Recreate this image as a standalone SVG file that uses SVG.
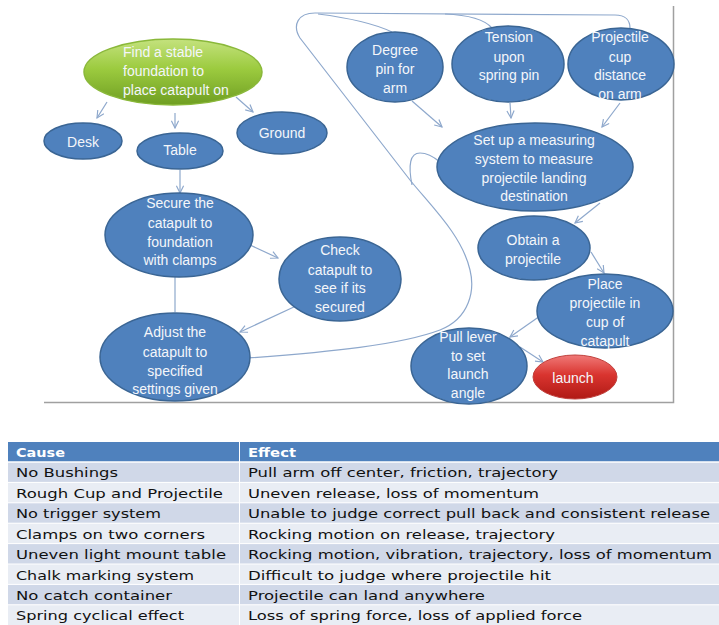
<svg xmlns="http://www.w3.org/2000/svg" width="719" height="625" viewBox="0 0 719 625">
<defs>
<linearGradient id="gGreen" x1="0" y1="0" x2="0" y2="1">
<stop offset="0" stop-color="#c4e27e"/>
<stop offset="0.45" stop-color="#9ccb3f"/>
<stop offset="1" stop-color="#6f9e22"/>
</linearGradient>
<linearGradient id="gRed" x1="0" y1="0" x2="0" y2="1">
<stop offset="0" stop-color="#f07a78"/>
<stop offset="0.45" stop-color="#d9342f"/>
<stop offset="1" stop-color="#b01a15"/>
</linearGradient>
<marker id="arr" viewBox="0 0 10 10" refX="9" refY="5" markerWidth="9" markerHeight="9" orient="auto" markerUnits="userSpaceOnUse">
<path d="M1,1 L9,5 L1,9" fill="none" stroke="#8ea8cc" stroke-width="1.3"/>
</marker>
<style>
.blue{fill:#4f81bd;stroke:#3a6594;stroke-width:1.5}
.t{font-family:"Liberation Sans",Arial,sans-serif;font-size:14px;fill:#f4f6fa;text-anchor:middle}
.tl{font-family:"Liberation Sans",Arial,sans-serif;font-size:14px;fill:#f4f6fa}
.c{fill:none;stroke:#8ea8cc;stroke-width:1.2}
.frame{fill:none;stroke:#a0a0a0;stroke-width:1.5}
.th{font-family:"DejaVu Sans",Verdana,sans-serif;font-size:13px;font-weight:bold;fill:#ffffff}
.td{font-family:"DejaVu Sans",Verdana,sans-serif;font-size:13px;fill:#111111}
.r1{fill:#d0d8e8}
.r2{fill:#e9edf4}
</style>
</defs>
<rect width="719" height="625" fill="#ffffff"/>
<path class="frame" d="M673.5,6 L673.5,402.5 L44,402.5"/>

<g id="connectors">
<path class="c" d="M248,358 C330,352 400,345 440,330 C470,318 475,290 470,270 C462,235 430,205 410,180 L300,38 C292,25 298,13 315,13 L615,15 C626,15 630,21 630,28"/>
<path class="c" d="M318,14 C350,18 375,24 392,32"/>
<path class="c" d="M445,14 C470,15 485,20 492,28"/>
<path class="c" d="M412,185 C408,165 410,153 420,153 C428,153 434,157 440,162"/>
<path class="c" marker-end="url(#arr)" d="M107,102 L97,118"/>
<path class="c" marker-end="url(#arr)" d="M175,113 L175,128"/>
<path class="c" marker-end="url(#arr)" d="M236,97 L253,112"/>
<path class="c" marker-end="url(#arr)" d="M180,170 L180,193"/>
<path class="c" marker-end="url(#arr)" d="M250,245 L278,258"/>
<path class="c" d="M175,277 L175,312"/>
<path class="c" marker-end="url(#arr)" d="M296,306 L240,332"/>
<path class="c" marker-end="url(#arr)" d="M412,101 L442,127"/>
<path class="c" marker-end="url(#arr)" d="M510,103 L511,118"/>
<path class="c" marker-end="url(#arr)" d="M620,103 L602,127"/>
<path class="c" marker-end="url(#arr)" d="M600,203 L575,223"/>
<path class="c" marker-end="url(#arr)" d="M591,252 L604,273"/>
<path class="c" marker-end="url(#arr)" d="M540,316 L510,337"/>
<path class="c" marker-end="url(#arr)" d="M520,347 L543,362"/>
</g>

<g id="n-foundation">
<ellipse cx="173" cy="72" rx="89" ry="33" fill="url(#gGreen)" stroke="#8ab83a" stroke-width="1.5"/>
<text class="tl" x="123" y="57">Find a stable</text>
<text class="tl" x="123" y="76">foundation to</text>
<text class="tl" x="123" y="95">place catapult on</text>
</g>
<g id="n-desk">
<ellipse class="blue" cx="83" cy="141" rx="39" ry="18"/>
<text class="t" x="83" y="147">Desk</text>
</g>
<g id="n-table">
<ellipse class="blue" cx="180" cy="151" rx="43" ry="18"/>
<text class="t" x="180" y="155">Table</text>
</g>
<g id="n-ground">
<ellipse class="blue" cx="282" cy="133" rx="45" ry="21"/>
<text class="t" x="282" y="138">Ground</text>
</g>
<g id="n-secure">
<ellipse class="blue" cx="179" cy="235" rx="74" ry="42"/>
<text class="t" x="180" y="208">Secure the</text>
<text class="t" x="180" y="228">catapult  to</text>
<text class="t" x="180" y="247">foundation</text>
<text class="t" x="180" y="265">with clamps</text>
</g>
<g id="n-check">
<ellipse class="blue" cx="340" cy="279" rx="61" ry="42"/>
<text class="t" x="340" y="255">Check</text>
<text class="t" x="340" y="275">catapult to</text>
<text class="t" x="340" y="293">see if its</text>
<text class="t" x="340" y="312">secured</text>
</g>
<g id="n-adjust">
<ellipse class="blue" cx="175" cy="357" rx="75" ry="44"/>
<text class="t" x="175" y="337">Adjust the</text>
<text class="t" x="175" y="357">catapult to</text>
<text class="t" x="175" y="376">specified</text>
<text class="t" x="175" y="394">settings given</text>
</g>
<g id="n-degree">
<ellipse class="blue" cx="395" cy="67" rx="48" ry="35"/>
<text class="t" x="395" y="55">Degree</text>
<text class="t" x="395" y="74">pin for</text>
<text class="t" x="395" y="93">arm</text>
</g>
<g id="n-tension">
<ellipse class="blue" cx="508" cy="64" rx="56" ry="38"/>
<text class="t" x="509" y="42">Tension</text>
<text class="t" x="509" y="62">upon</text>
<text class="t" x="509" y="80">spring pin</text>
</g>
<g id="n-cup">
<ellipse class="blue" cx="621" cy="64" rx="53" ry="36"/>
<text class="t" x="620" y="42">Projectile</text>
<text class="t" x="620" y="62">cup</text>
<text class="t" x="620" y="80">distance</text>
<text class="t" x="620" y="99">on arm</text>
</g>
<g id="n-measure">
<ellipse class="blue" cx="535" cy="167" rx="98" ry="44"/>
<text class="t" x="534" y="145">Set up a measuring</text>
<text class="t" x="534" y="164">system to measure</text>
<text class="t" x="534" y="183">projectile landing</text>
<text class="t" x="534" y="201">destination</text>
</g>
<g id="n-obtain">
<ellipse class="blue" cx="534" cy="248" rx="56" ry="32"/>
<text class="t" x="533" y="245">Obtain a</text>
<text class="t" x="533" y="264">projectile</text>
</g>
<g id="n-place">
<ellipse class="blue" cx="605" cy="311" rx="68" ry="37"/>
<text class="t" x="605" y="289">Place</text>
<text class="t" x="605" y="308">projectile in</text>
<text class="t" x="605" y="327">cup of</text>
<text class="t" x="605" y="346">catapult</text>
</g>
<g id="n-pull">
<ellipse class="blue" cx="469" cy="366" rx="58" ry="38"/>
<text class="t" x="468" y="342">Pull lever</text>
<text class="t" x="468" y="361">to set</text>
<text class="t" x="468" y="379">launch</text>
<text class="t" x="468" y="398">angle</text>
</g>
<g id="n-launch">
<ellipse cx="575" cy="377" rx="42" ry="22" fill="url(#gRed)" stroke="#c0403c" stroke-width="1"/>
<text class="t" x="573" y="383">launch</text>
</g>

<g id="table">
<rect x="8" y="442" width="711" height="20" fill="#4f81bd"/>
<rect class="r1" x="8" y="462" width="711" height="20.4"/>
<rect class="r2" x="8" y="482.4" width="711" height="20.4"/>
<rect class="r1" x="8" y="502.8" width="711" height="20.4"/>
<rect class="r2" x="8" y="523.2" width="711" height="20.4"/>
<rect class="r1" x="8" y="543.6" width="711" height="20.4"/>
<rect class="r2" x="8" y="564" width="711" height="20.4"/>
<rect class="r1" x="8" y="584.4" width="711" height="20.4"/>
<rect class="r2" x="8" y="604.8" width="711" height="20.2"/>
<g stroke="#ffffff" stroke-width="1">
<line x1="8" y1="462" x2="719" y2="462" stroke-width="1.5"/>
<line x1="8" y1="482.4" x2="719" y2="482.4"/>
<line x1="8" y1="502.8" x2="719" y2="502.8"/>
<line x1="8" y1="523.2" x2="719" y2="523.2"/>
<line x1="8" y1="543.6" x2="719" y2="543.6"/>
<line x1="8" y1="564" x2="719" y2="564"/>
<line x1="8" y1="584.4" x2="719" y2="584.4"/>
<line x1="8" y1="604.8" x2="719" y2="604.8"/>
<line x1="239.5" y1="442" x2="239.5" y2="625"/>
</g>
<text class="th" x="16" y="457" textLength="49" lengthAdjust="spacingAndGlyphs">Cause</text>
<text class="th" x="248" y="457" textLength="48" lengthAdjust="spacingAndGlyphs">Effect</text>
<text class="td" x="16" y="477" textLength="102" lengthAdjust="spacingAndGlyphs">No Bushings</text>
<text class="td" x="16" y="497.5" textLength="207" lengthAdjust="spacingAndGlyphs">Rough Cup and Projectile</text>
<text class="td" x="16" y="518" textLength="145" lengthAdjust="spacingAndGlyphs">No trigger system</text>
<text class="td" x="16" y="538.5" textLength="189" lengthAdjust="spacingAndGlyphs">Clamps on two corners</text>
<text class="td" x="16" y="559" textLength="210" lengthAdjust="spacingAndGlyphs">Uneven light mount table</text>
<text class="td" x="16" y="579.5" textLength="178" lengthAdjust="spacingAndGlyphs">Chalk marking system</text>
<text class="td" x="16" y="600" textLength="156" lengthAdjust="spacingAndGlyphs">No catch container</text>
<text class="td" x="16" y="620" textLength="168" lengthAdjust="spacingAndGlyphs">Spring cyclical effect</text>
<text class="td" x="248" y="477" textLength="310" lengthAdjust="spacingAndGlyphs">Pull arm off center, friction, trajectory</text>
<text class="td" x="248" y="497.5" textLength="291" lengthAdjust="spacingAndGlyphs">Uneven release, loss of momentum</text>
<text class="td" x="248" y="518" textLength="462" lengthAdjust="spacingAndGlyphs">Unable to judge correct pull back and consistent release</text>
<text class="td" x="248" y="538.5" textLength="307" lengthAdjust="spacingAndGlyphs">Rocking motion on release, trajectory</text>
<text class="td" x="248" y="559" textLength="464" lengthAdjust="spacingAndGlyphs">Rocking motion, vibration, trajectory, loss of momentum</text>
<text class="td" x="248" y="579.5" textLength="303" lengthAdjust="spacingAndGlyphs">Difficult to judge where projectile hit</text>
<text class="td" x="248" y="600" textLength="237" lengthAdjust="spacingAndGlyphs">Projectile can land anywhere</text>
<text class="td" x="248" y="620" textLength="334" lengthAdjust="spacingAndGlyphs">Loss of spring force, loss of applied force</text>
</g>
</svg>
